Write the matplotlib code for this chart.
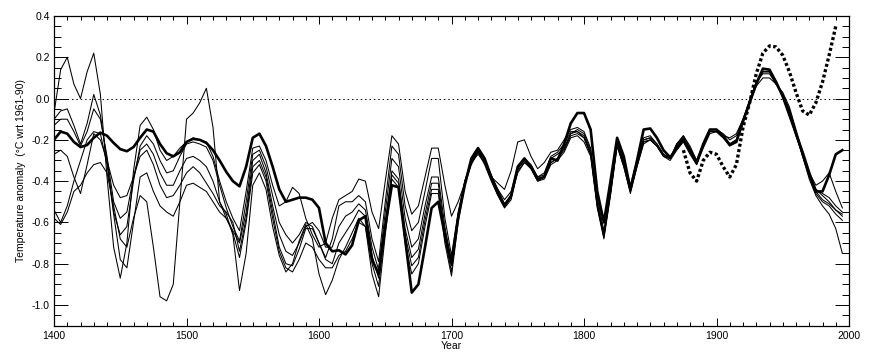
import matplotlib
matplotlib.use("Agg")
import matplotlib.pyplot as plt
from matplotlib.ticker import MultipleLocator

plt.rcParams['font.family'] = ['Liberation Sans', 'DejaVu Sans']

years = list(range(1400, 2000, 5))

thick = [
    -0.20, -0.16, -0.17, -0.21, -0.235, -0.225, -0.19, -0.165, -0.18, -0.215,
    -0.245, -0.255, -0.235, -0.19, -0.15, -0.16, -0.22, -0.265, -0.28, -0.26,
    -0.21, -0.195, -0.20, -0.215, -0.25, -0.30, -0.355, -0.40, -0.425, -0.33,
    -0.19, -0.17, -0.23, -0.33, -0.44, -0.50, -0.49, -0.48, -0.48, -0.49,
    -0.53, -0.70, -0.74, -0.735, -0.755, -0.71, -0.59, -0.57, -0.78, -0.85,
    -0.62, -0.42, -0.43, -0.68, -0.94, -0.90, -0.72, -0.53, -0.50, -0.66,
    -0.80, -0.58, -0.42, -0.29, -0.24, -0.29, -0.38, -0.46, -0.52, -0.47,
    -0.33, -0.29, -0.33, -0.39, -0.38, -0.29, -0.30, -0.22, -0.12, -0.07,
    -0.07, -0.15, -0.45, -0.60, -0.40, -0.19, -0.28, -0.44, -0.30, -0.15,
    -0.145, -0.19, -0.25, -0.285, -0.24, -0.20, -0.25, -0.31, -0.22, -0.15,
    -0.15, -0.18, -0.225, -0.21, -0.11, -0.02, 0.07, 0.145, 0.14, 0.08,
    0.01, -0.08, -0.17, -0.26, -0.36, -0.45, -0.45, -0.37, -0.27, -0.25,
]

thin_1 = [
    -0.07, 0.14, 0.20, 0.07, 0.00, 0.13, 0.22, 0.02, -0.38, -0.72,
    -0.87, -0.70, -0.35, -0.13, -0.09, -0.15, -0.25, -0.30, -0.28, -0.24,
    -0.21, -0.19, -0.20, -0.21, -0.28, -0.40, -0.50, -0.58, -0.64, -0.45,
    -0.24, -0.23, -0.30, -0.42, -0.52, -0.50, -0.43, -0.46, -0.58, -0.66,
    -0.72, -0.70, -0.58, -0.49, -0.47, -0.45, -0.39, -0.40, -0.55, -0.63,
    -0.40, -0.18, -0.22, -0.45, -0.56, -0.52, -0.38, -0.24, -0.24, -0.42,
    -0.57, -0.50, -0.41, -0.31, -0.25, -0.30, -0.38, -0.41, -0.44, -0.35,
    -0.21, -0.20, -0.28, -0.34, -0.31, -0.26, -0.25, -0.20, -0.15, -0.14,
    -0.16, -0.24, -0.48, -0.64, -0.43, -0.21, -0.30, -0.42, -0.30, -0.19,
    -0.18, -0.22, -0.27, -0.29, -0.22, -0.18, -0.24, -0.30, -0.22, -0.16,
    -0.16, -0.18, -0.19, -0.17, -0.10, -0.02, 0.06, 0.10, 0.10, 0.07,
    0.03, -0.04, -0.15, -0.26, -0.36, -0.42, -0.40, -0.36, -0.45, -0.53,
]

thin_2 = [
    -0.10, -0.06, -0.05, -0.13, -0.22, -0.12, 0.02, -0.08, -0.30, -0.55,
    -0.66, -0.62, -0.40, -0.23, -0.18, -0.22, -0.30, -0.36, -0.35, -0.28,
    -0.22, -0.21, -0.22, -0.235, -0.30, -0.42, -0.53, -0.62, -0.69, -0.50,
    -0.27, -0.25, -0.33, -0.47, -0.60, -0.66, -0.70, -0.66, -0.60, -0.62,
    -0.70, -0.77, -0.68, -0.52, -0.50, -0.50, -0.47, -0.50, -0.68, -0.79,
    -0.50, -0.23, -0.27, -0.52, -0.64, -0.60, -0.45, -0.29, -0.29, -0.58,
    -0.76, -0.55, -0.40, -0.30, -0.245, -0.30, -0.38, -0.44, -0.49, -0.45,
    -0.33, -0.29, -0.32, -0.38, -0.37, -0.29, -0.27, -0.24, -0.17, -0.15,
    -0.17, -0.25, -0.50, -0.66, -0.45, -0.22, -0.31, -0.44, -0.31, -0.20,
    -0.19, -0.22, -0.27, -0.29, -0.23, -0.20, -0.26, -0.32, -0.24, -0.17,
    -0.16, -0.19, -0.23, -0.21, -0.12, -0.02, 0.07, 0.13, 0.13, 0.08,
    0.01, -0.08, -0.18, -0.28, -0.37, -0.44, -0.47, -0.50, -0.54, -0.56,
]

thin_3 = [
    -0.13, -0.10, -0.10, -0.16, -0.23, -0.16, -0.05, -0.10, -0.28, -0.50,
    -0.58, -0.55, -0.38, -0.25, -0.22, -0.27, -0.36, -0.42, -0.42, -0.35,
    -0.29, -0.28, -0.30, -0.33, -0.40, -0.50, -0.58, -0.64, -0.70, -0.55,
    -0.30, -0.27, -0.36, -0.52, -0.66, -0.74, -0.76, -0.70, -0.62, -0.60,
    -0.64, -0.72, -0.72, -0.62, -0.57, -0.55, -0.51, -0.54, -0.72, -0.83,
    -0.55, -0.29, -0.33, -0.58, -0.72, -0.68, -0.52, -0.38, -0.38, -0.62,
    -0.79, -0.56, -0.40, -0.30, -0.25, -0.31, -0.39, -0.45, -0.51, -0.47,
    -0.34, -0.30, -0.33, -0.39, -0.38, -0.31, -0.29, -0.25, -0.18, -0.17,
    -0.19, -0.27, -0.52, -0.67, -0.46, -0.23, -0.33, -0.45, -0.33, -0.22,
    -0.20, -0.23, -0.28, -0.29, -0.22, -0.19, -0.26, -0.31, -0.23, -0.16,
    -0.16, -0.19, -0.22, -0.20, -0.11, -0.01, 0.08, 0.12, 0.12, 0.07,
    0.02, -0.06, -0.17, -0.28, -0.38, -0.46, -0.50, -0.52, -0.56, -0.59,
]

thin_4 = [
    -0.27, -0.25, -0.28, -0.38, -0.46, -0.32, -0.17, -0.20, -0.30, -0.42,
    -0.48, -0.47, -0.38, -0.28, -0.25, -0.32, -0.42, -0.48, -0.47, -0.42,
    -0.36, -0.33, -0.36, -0.41, -0.46, -0.52, -0.55, -0.60, -0.74, -0.58,
    -0.33, -0.30, -0.38, -0.55, -0.72, -0.80, -0.81, -0.73, -0.63, -0.63,
    -0.70, -0.78, -0.80, -0.70, -0.65, -0.60, -0.54, -0.57, -0.76, -0.87,
    -0.60, -0.35, -0.39, -0.63, -0.77, -0.73, -0.56, -0.41, -0.41, -0.65,
    -0.81, -0.57, -0.41, -0.31, -0.26, -0.32, -0.40, -0.47, -0.53, -0.49,
    -0.35, -0.31, -0.34, -0.40, -0.39, -0.32, -0.30, -0.26, -0.19, -0.18,
    -0.21, -0.28, -0.53, -0.68, -0.47, -0.23, -0.33, -0.46, -0.33, -0.21,
    -0.20, -0.23, -0.28, -0.30, -0.25, -0.21, -0.27, -0.32, -0.23, -0.16,
    -0.16, -0.19, -0.22, -0.20, -0.11, -0.01, 0.08, 0.14, 0.14, 0.08,
    0.02, -0.07, -0.17, -0.28, -0.39, -0.47, -0.52, -0.56, -0.63, -0.75,
]

thin_5 = [
    -0.54, -0.60, -0.52, -0.40, -0.30, -0.20, -0.16, -0.17, -0.32, -0.56,
    -0.78, -0.82, -0.60, -0.38, -0.36, -0.45, -0.52, -0.55, -0.57, -0.50,
    -0.42, -0.41, -0.43, -0.45, -0.50, -0.55, -0.58, -0.65, -0.77, -0.60,
    -0.36, -0.32, -0.40, -0.58, -0.74, -0.82, -0.84, -0.78, -0.70, -0.72,
    -0.78, -0.82, -0.82, -0.76, -0.74, -0.68, -0.60, -0.62, -0.80, -0.91,
    -0.62, -0.37, -0.41, -0.66, -0.81, -0.77, -0.59, -0.44, -0.44, -0.68,
    -0.84, -0.58, -0.41, -0.31, -0.27, -0.31, -0.39, -0.46, -0.52, -0.48,
    -0.34, -0.30, -0.34, -0.40, -0.38, -0.31, -0.29, -0.24, -0.17, -0.16,
    -0.19, -0.27, -0.52, -0.67, -0.46, -0.22, -0.32, -0.45, -0.32, -0.21,
    -0.20, -0.23, -0.28, -0.29, -0.23, -0.19, -0.25, -0.31, -0.22, -0.15,
    -0.15, -0.17, -0.20, -0.18, -0.10, -0.01, 0.08, 0.13, 0.13, 0.07,
    0.01, -0.07, -0.18, -0.27, -0.37, -0.45, -0.49, -0.51, -0.54, -0.57,
]

thin_6 = [
    -0.58, -0.61, -0.55, -0.45, -0.42, -0.36, -0.32, -0.31, -0.36, -0.52,
    -0.68, -0.72, -0.58, -0.47, -0.50, -0.72, -0.96, -0.98, -0.90, -0.50,
    -0.10, -0.07, -0.02, 0.05, -0.14, -0.50, -0.56, -0.66, -0.93, -0.75,
    -0.42, -0.36, -0.44, -0.62, -0.76, -0.84, -0.80, -0.69, -0.61, -0.68,
    -0.85, -0.95, -0.88, -0.78, -0.72, -0.65, -0.58, -0.62, -0.85, -0.96,
    -0.66, -0.39, -0.43, -0.70, -0.85, -0.80, -0.62, -0.46, -0.46, -0.70,
    -0.86, -0.60, -0.42, -0.32, -0.26, -0.30, -0.37, -0.44, -0.51, -0.47,
    -0.36, -0.31, -0.33, -0.38, -0.36, -0.28, -0.26, -0.22, -0.16, -0.16,
    -0.18, -0.26, -0.51, -0.66, -0.45, -0.21, -0.31, -0.44, -0.31, -0.20,
    -0.19, -0.22, -0.27, -0.29, -0.22, -0.18, -0.23, -0.30, -0.22, -0.15,
    -0.15, -0.18, -0.22, -0.20, -0.11, -0.01, 0.08, 0.13, 0.13, 0.07,
    0.02, -0.05, -0.16, -0.27, -0.37, -0.44, -0.46, -0.48, -0.52, -0.55,
]

inst_years = list(range(1875, 1995, 5))
inst_vals = [
    -0.25, -0.36, -0.40, -0.30, -0.26, -0.27, -0.33, -0.38, -0.32, -0.14,
    -0.02, 0.12, 0.22, 0.255, 0.25, 0.21, 0.13, 0.03, -0.06, -0.08,
    -0.02, 0.08, 0.21, 0.35,
]

fig = plt.figure(figsize=(8.74, 3.59), dpi=100)
ax = fig.add_axes([0.0618, 0.093, 0.9096, 0.8624])

ax.axhline(0.0, color='black', lw=0.7, linestyle=(0, (1.5, 3)))

for s in [thin_1, thin_2, thin_3, thin_4, thin_5, thin_6]:
    ax.plot(years, s, color='black', lw=0.75, solid_joinstyle='round')
ax.plot(years, thick, color='black', lw=1.9, solid_joinstyle='round')
ax.plot(inst_years, inst_vals, color='black', lw=2.4,
        linestyle=(0, (0.9, 0.75)), dash_capstyle='butt')

ax.set_xlim(1400, 2000)
ax.set_ylim(-1.1, 0.4)
ax.xaxis.set_major_locator(MultipleLocator(100))
ax.xaxis.set_minor_locator(MultipleLocator(10))
ax.yaxis.set_minor_locator(MultipleLocator(0.05))
ax.set_yticks([0.4, 0.2, 0.0, -0.2, -0.4, -0.6, -0.8, -1.0])
ax.set_yticklabels(['0.4', '0.2', '0.0', '-0.2', '-0.4', '-0.6', '-0.8', '-1.0'])

ax.tick_params(axis='both', which='both', direction='in', top=True, right=True,
               labelsize=7.5, width=0.7)
ax.tick_params(axis='y', which='major', length=10, pad=3)
ax.tick_params(axis='y', which='minor', length=5)
ax.tick_params(axis='x', which='major', length=6, pad=4)
ax.tick_params(axis='x', which='minor', length=3)
for sp in ax.spines.values():
    sp.set_linewidth(0.9)

ax.set_xlabel('Year', fontsize=7.5, labelpad=0)
ax.set_ylabel('Temperature anomaly  (\u00b0C wrt 1961-90)', fontsize=7.5, labelpad=4)

fig.savefig('out.png', dpi=100)
